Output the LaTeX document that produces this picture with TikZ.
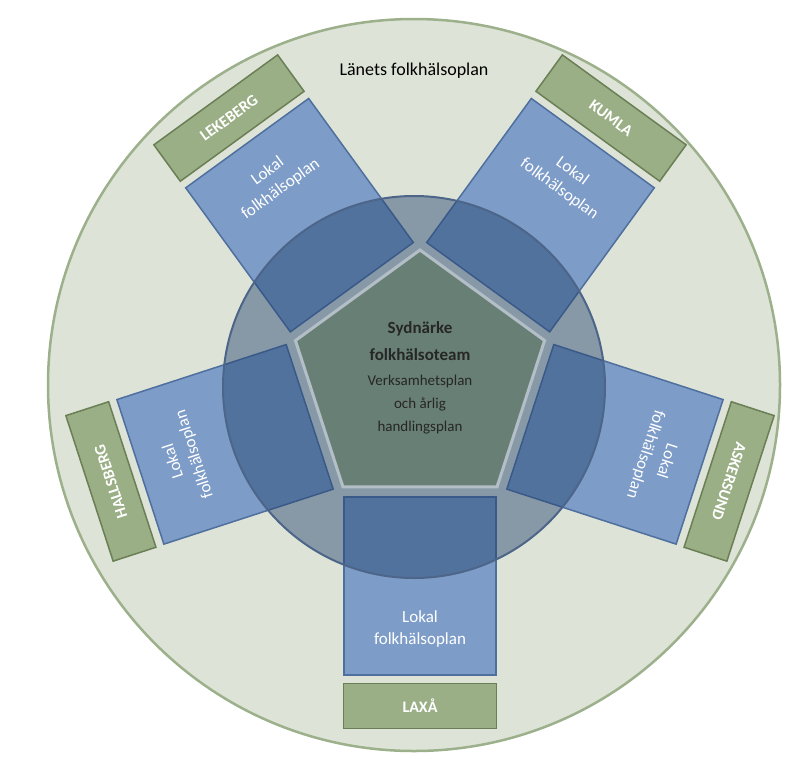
\documentclass[tikz,border=0pt]{standalone}
\usepackage{fontspec}
\setmainfont{Carlito}
\usetikzlibrary{shapes.geometric}
\definecolor{bigfill}{HTML}{DDE3D6}
\definecolor{bigdraw}{HTML}{9DB08C}
\definecolor{rectfill}{HTML}{7D9CC8}
\definecolor{rectdraw}{HTML}{4F6F9F}
\definecolor{labfill}{HTML}{9BAF86}
\definecolor{labdraw}{HTML}{6A7F55}
\definecolor{circfill}{HTML}{1F3F6C}
\definecolor{pentfill}{HTML}{687F76}
\definecolor{pentdraw}{HTML}{B4BEC6}
\tikzset{
  planbox/.style={fill=rectfill,draw=rectdraw,line width=1.5pt},
  labbox/.style={fill=labfill,draw=labdraw,line width=1.5pt},
  labtext/.style={text=white,font=\fontsize{16}{18}\selectfont\bfseries,transform shape},
  plantext/.style={text=white,font=\fontsize{17}{22}\selectfont,align=center,transform shape},
}
\begin{document}
\begin{tikzpicture}[x=1pt,y=-1pt]
\useasboundingbox (0,0) rectangle (794,758);
\node[circle,minimum size=732pt,fill=bigfill,draw=bigdraw,line width=2.5pt,inner sep=0] (big) at (414,385) {};
\node[font=\fontsize{18}{20}\selectfont] (title) at (414,71) {Länets folkhälsoplan};
\coordinate (C) at (420,381);
\begin{scope}[shift={(C)}]
 \node[planbox,minimum width=152pt,minimum height=178pt,transform shape] (r0) at (0,205) {};
 \node[labbox,minimum width=153pt,minimum height=45pt,transform shape] (l0) at (0,325) {};
 \node[labtext] (t0) at (l0) {LAXÅ};
 \node[plantext] (p0) at (0,248) {Lokal\\folkhälsoplan};
\end{scope}
\foreach \r/\name [count=\i] in {72/ASKERSUND,144/KUMLA,216/LEKEBERG,288/HALLSBERG}{
\begin{scope}[shift={(C)},rotate=\r]
 \node[planbox,minimum width=152pt,minimum height=178pt,transform shape] (r\i) at (0,205) {};
 \node[labbox,minimum width=153pt,minimum height=45pt,transform shape] (l\i) at (0,325) {};
 \node[labtext,rotate=180] (t\i) at (l\i) {\name};
 \node[plantext,rotate=180] (p\i) at (0,248) {Lokal\\folkhälsoplan};
\end{scope}
}
\node[circle,minimum size=382pt,fill=circfill,fill opacity=0.45,draw=circfill!80!white,line width=2pt,inner sep=0] (inner) at (414,387) {};
\node[regular polygon,regular polygon sides=5,minimum size=262pt,inner sep=0,fill=pentfill,draw=pentdraw,line width=3pt] (pent) at (C) {};
\node[align=center,font=\fontsize{17}{27}\selectfont\bfseries,text=black!85] (head) at (420,341) {Sydnärke\\folkhälsoteam};
\node[align=center,font=\fontsize{15}{23}\selectfont,text=black!85] (sub) at (420,405) {Verksamhetsplan\\och årlig\\handlingsplan};
\end{tikzpicture}
\end{document}
